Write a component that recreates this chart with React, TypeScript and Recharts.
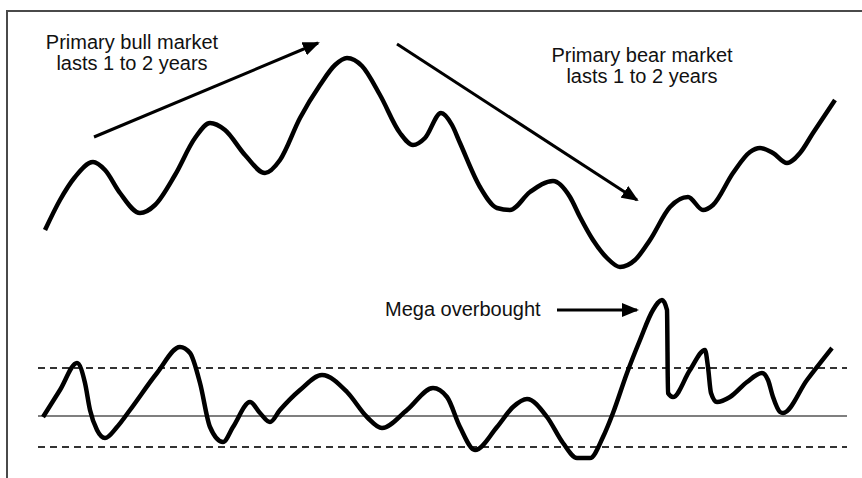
import React from 'react';
import { LineChart, Line, XAxis, YAxis, ReferenceLine } from 'recharts';

// price series (day, price)
const priceDays = [0, 15, 30, 48, 60, 75, 95, 110, 130, 150, 165, 180, 200, 220, 235, 255, 275, 290, 302, 317, 335, 355, 368, 380, 396, 407, 415, 435, 452, 465, 485, 508, 525, 535, 548, 562, 575, 590, 605, 625, 643, 658, 668, 688, 705, 715, 728, 742, 755, 768, 790];
const priceValues = [248, 278, 301, 316, 308, 285, 265, 273, 303, 340, 355, 348, 323, 305, 318, 360, 393, 413, 420, 412, 383, 345, 333, 340, 365, 353, 335, 291, 270, 268, 286, 297, 281, 261, 238, 220, 211, 218, 238, 271, 281, 268, 273, 305, 326, 330, 325, 315, 325, 345, 378];

// oscillator series (day, value)
const oscDays = [-2, 15, 32, 40, 45, 52, 60, 72, 85, 112, 135, 145, 155, 165, 178, 188, 205, 215, 225, 235, 255, 277, 302, 322, 337, 362, 388, 402, 415, 430, 452, 468, 482, 502, 518, 532, 545, 558, 568, 582, 595, 608, 617, 622, 623, 628, 645, 660, 663, 666, 672, 685, 702, 717, 723, 728, 735, 738, 762, 787];
const oscValues = [-1, 26, 53, 33, 6, -14, -22, -11, 6, 43, 69, 63, 33, -11, -26, -11, 14, 3, -6, 6, 26, 41, 24, -1, -12, 6, 28, 19, -11, -34, -11, 9, 17, -1, -27, -42, -42, -21, 3, 43, 76, 106, 116, 106, 23, 19, 46, 66, 49, 23, 14, 19, 34, 43, 36, 19, 4, 3, 36, 68];

const overbought = 48;
const oversold = -31;
const bandStart = -7;
const bandEnd = 802;

const priceData = priceDays.map((t, i) => ({ t, price: priceValues[i] }));
const oscData = oscDays.map((t, i) => ({ t, osc: oscValues[i] }));

const font = '"Liberation Sans", Arial, sans-serif';

const arrow = (p: any) => (
  <line x1={p.x1} y1={p.y1} x2={p.x2} y2={p.y2} stroke="#000" strokeWidth={3} markerEnd="url(#arrowHead)" />
);

const labelStyle: React.CSSProperties = {
  position: 'absolute',
  fontFamily: font,
  fontSize: 20,
  lineHeight: '21px',
  color: '#111',
  textAlign: 'center',
  whiteSpace: 'nowrap',
};

export default function App() {
  return (
    <div style={{ position: 'absolute', left: 0, top: 0, width: 862, height: 478, background: '#fff', overflow: 'hidden' }}>
      <svg width={0} height={0} style={{ position: 'absolute' }}>
        <defs>
          <marker id="arrowHead" markerUnits="userSpaceOnUse" markerWidth={18} markerHeight={14} refX={15} refY={7} orient="auto">
            <path d="M0,0 L17,7 L0,14 z" fill="#000" />
          </marker>
        </defs>
      </svg>
      <div style={{ position: 'absolute', left: 6, top: 10, width: 900, height: 500, borderLeft: '2px solid #4a4a4a', borderTop: '2px solid #4a4a4a' }} />
      <LineChart width={862} height={478} margin={{ top: 0, right: 0, bottom: 0, left: 0 }} style={{ position: 'absolute', left: 0, top: 0 }}>
        <XAxis dataKey="t" type="number" domain={[-45, 817]} hide allowDataOverflow />
        <YAxis yAxisId="price" type="number" domain={[0, 478]} hide allowDataOverflow />
        <YAxis yAxisId="osc" type="number" domain={[-62, 416]} hide allowDataOverflow />
        <ReferenceLine yAxisId="osc" segment={[{ x: bandStart, y: overbought }, { x: bandEnd, y: overbought }]} stroke="#333" strokeWidth={2} strokeDasharray="7 5" />
        <ReferenceLine yAxisId="osc" segment={[{ x: bandStart, y: 0 }, { x: bandEnd, y: 0 }]} stroke="#555" strokeWidth={1.5} />
        <ReferenceLine yAxisId="osc" segment={[{ x: bandStart, y: oversold }, { x: bandEnd, y: oversold }]} stroke="#333" strokeWidth={2} strokeDasharray="7 5" />
        <Line data={priceData} yAxisId="price" dataKey="price" type="monotone" stroke="#000" strokeWidth={4.5} dot={false} activeDot={false} isAnimationActive={false} />
        <Line data={oscData} yAxisId="osc" dataKey="osc" type="monotone" stroke="#000" strokeWidth={4.5} dot={false} activeDot={false} isAnimationActive={false} />
        <ReferenceLine yAxisId="price" segment={[{ x: 49, y: 341 }, { x: 273, y: 435 }]} shape={arrow} />
        <ReferenceLine yAxisId="price" segment={[{ x: 352, y: 434 }, { x: 592, y: 278 }]} shape={arrow} />
        <ReferenceLine yAxisId="osc" segment={[{ x: 512, y: 106 }, { x: 592, y: 106 }]} shape={arrow} />
      </LineChart>
      <div style={{ ...labelStyle, left: 22, top: 32, width: 220 }}>
        Primary bull market<br />lasts 1 to 2 years
      </div>
      <div style={{ ...labelStyle, left: 532, top: 45, width: 220 }}>
        Primary bear market<br />lasts 1 to 2 years
      </div>
      <div style={{ ...labelStyle, left: 385, top: 299, textAlign: 'left' }}>Mega overbought</div>
    </div>
  );
}
